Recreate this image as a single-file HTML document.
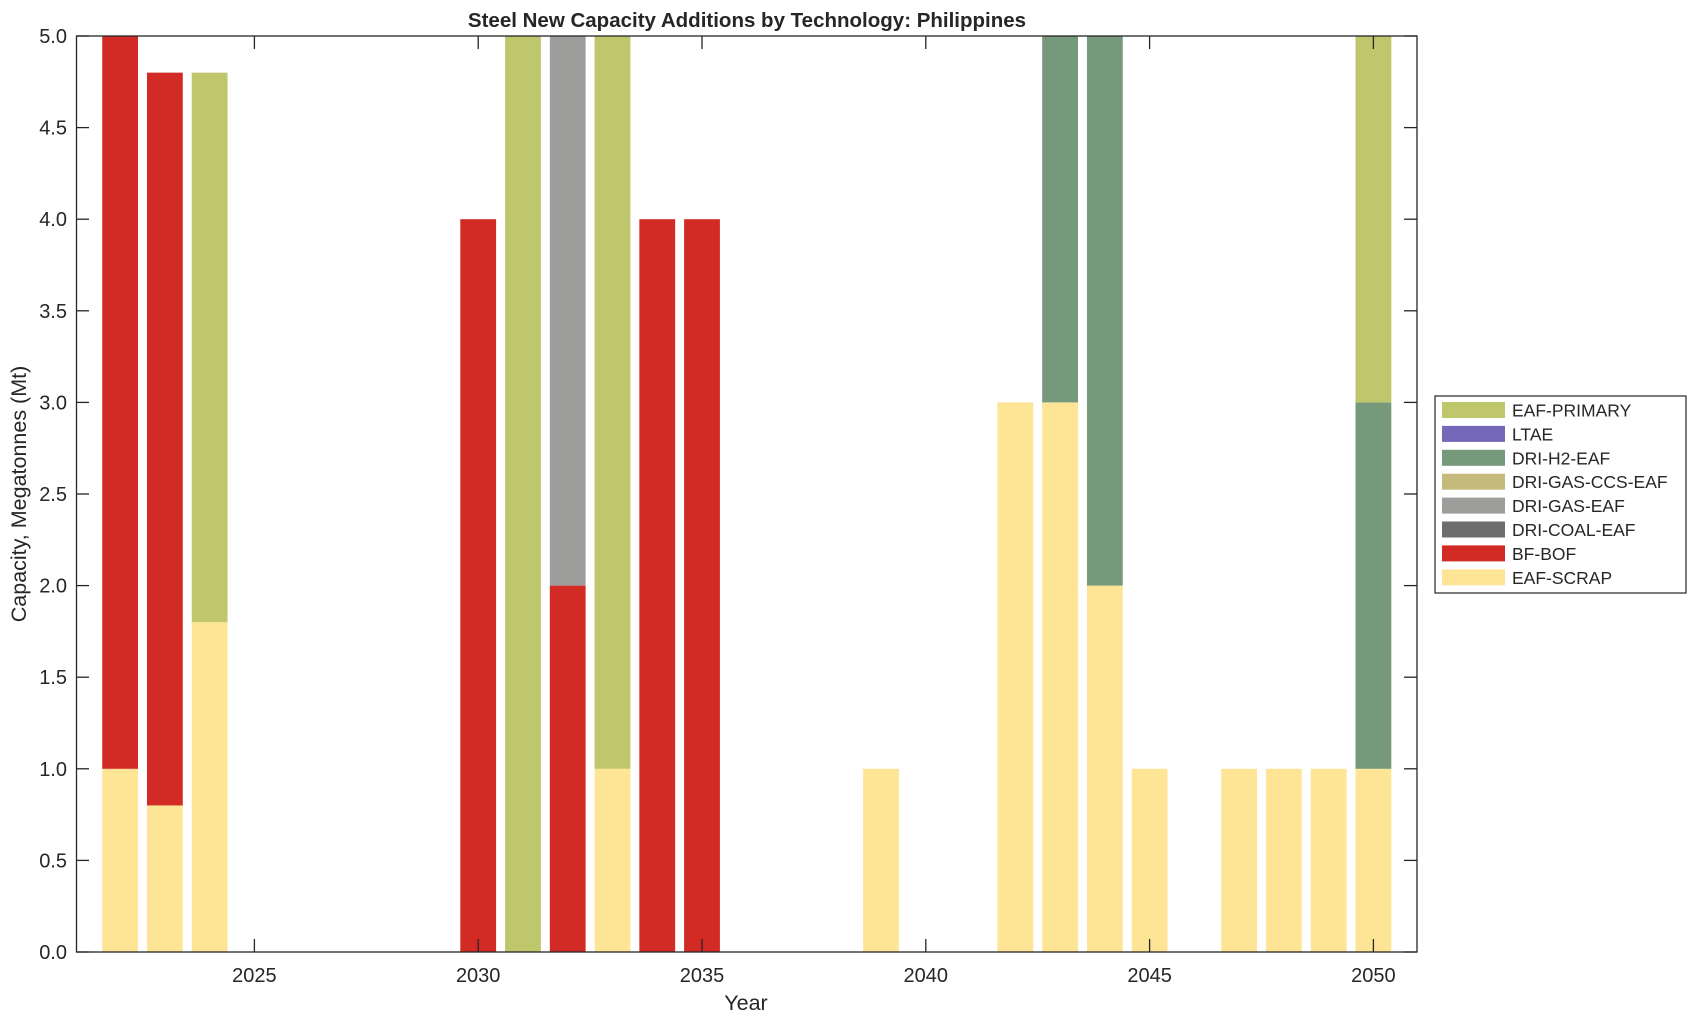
<!DOCTYPE html>
<html><head><meta charset="utf-8"><style>body{margin:0;background:#fff}svg{display:block}text{font-family:"Liberation Sans",Arial,sans-serif;fill:#262626}</style></head>
<body>
<svg width="1696" height="1021" viewBox="0 0 1696 1021" xmlns="http://www.w3.org/2000/svg">
<g id="bars"></g>
<rect x="76.5" y="36" width="1340.5" height="916" fill="none" stroke="#262626" stroke-width="1.3"/>
<g id="ticks" stroke="#262626" stroke-width="1.3"></g>
<g id="labels" font-size="20"></g>
<text x="746" y="1010" font-size="21.5" text-anchor="middle">Year</text>
<text transform="translate(26,494) rotate(-90)" font-size="21.5" text-anchor="middle">Capacity, Megatonnes (Mt)</text>
<text x="747" y="27" font-size="20.5" font-weight="bold" text-anchor="middle">Steel New Capacity Additions by Technology: Philippines</text>
<rect x="1435" y="396" width="251" height="197" fill="#fff" stroke="#262626" stroke-width="1.2"/>
<g id="legend" font-size="17.5"></g>
<script>
var X0=254.4,DX=44.76,Y0=952,DY=183.2,W=35.8;
var C={p:"#bec76b",l:"#7568b8",h:"#76987b",c:"#c4ba7b",g:"#9d9d9b",k:"#6d6d6d",b:"#d22b25",s:"#fee596"};
var data={2022:[["s",1],["b",4]],2023:[["s",.8],["b",4]],2024:[["s",1.8],["p",3]],2030:[["b",4]],2031:[["p",5]],2032:[["b",2],["g",3]],2033:[["s",1],["p",4]],2034:[["b",4]],2035:[["b",4]],2039:[["s",1]],2042:[["s",3]],2043:[["s",3],["h",2]],2044:[["s",2],["h",3]],2045:[["s",1]],2047:[["s",1]],2048:[["s",1]],2049:[["s",1]],2050:[["s",1],["h",2],["p",2]]};
var ns="http://www.w3.org/2000/svg";
function el(p,t,a,txt){var e=document.createElementNS(ns,t);for(var k in a)e.setAttribute(k,a[k]);if(txt)e.textContent=txt;document.getElementById(p).appendChild(e);}
for(var y in data){var cx=X0+(y-2025)*DX,b=0;data[y].forEach(function(s){var t=Math.min(b+s[1],5);el("bars","rect",{x:cx-W/2,y:Y0-t*DY,width:W,height:(t-b)*DY,fill:C[s[0]]});b=t;});}
for(var i=0;i<=10;i++){var v=i*0.5,yy=Y0-v*DY;el("ticks","line",{x1:76.5,x2:89,y1:yy,y2:yy});el("ticks","line",{x1:1404,x2:1417,y1:yy,y2:yy});el("labels","text",{x:67,y:yy+7,"text-anchor":"end"},v.toFixed(1));}
for(var yr=2025;yr<=2050;yr+=5){var xx=X0+(yr-2025)*DX;el("ticks","line",{x1:xx,x2:xx,y1:952,y2:939});el("ticks","line",{x1:xx,x2:xx,y1:36,y2:49});el("labels","text",{x:xx,y:982,"text-anchor":"middle"},yr);}
var L=[["p","EAF-PRIMARY"],["l","LTAE"],["h","DRI-H2-EAF"],["c","DRI-GAS-CCS-EAF"],["g","DRI-GAS-EAF"],["k","DRI-COAL-EAF"],["b","BF-BOF"],["s","EAF-SCRAP"]];
L.forEach(function(l,i){var yy=402+i*23.9;el("legend","rect",{x:1442,y:yy,width:63,height:16,fill:C[l[0]]});el("legend","text",{x:1512,y:yy+14.5},l[1]);});
</script>
</svg>
</body></html>
